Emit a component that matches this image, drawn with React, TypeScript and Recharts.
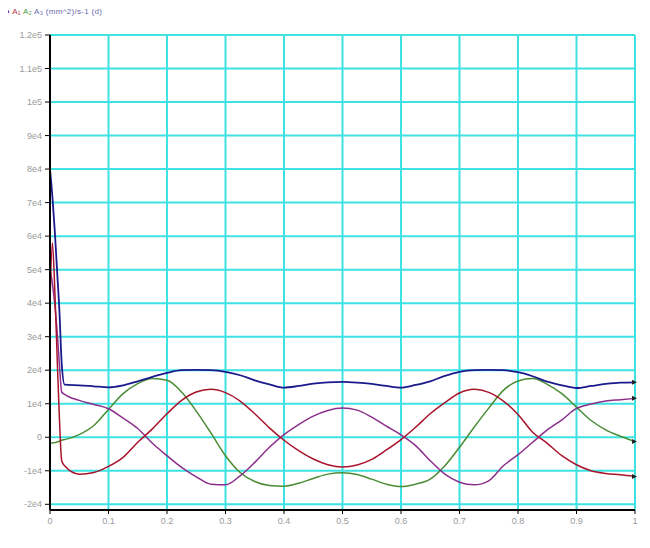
import React from "react"
import {
  LineChart,
  Line,
  XAxis,
  YAxis,
  CartesianGrid,
} from "recharts"

const xs = [
  0, 0.004, 0.008, 0.012, 0.016, 0.02, 0.025, 0.05, 0.075, 0.1, 0.125, 0.15, 0.175, 0.2,
  0.225, 0.25, 0.275, 0.3, 0.325, 0.35, 0.375, 0.4, 0.425, 0.45, 0.475, 0.5, 0.525, 0.55,
  0.575, 0.6, 0.625, 0.65, 0.675, 0.7, 0.725, 0.75, 0.775, 0.8, 0.825, 0.85, 0.875, 0.9,
  0.925, 0.95, 0.975, 1,
]

const blue = [
  80000, 72000, 62000, 50000, 38000, 22000, 15700, 15500, 15200, 14900, 15500, 16700, 18000,
  19200, 20000, 20100, 20000, 19500, 18500, 17000, 15800, 14800, 15300, 16000, 16400, 16500,
  16300, 15900, 15300, 14800, 15600, 16700, 18300, 19500, 20000, 20100, 20000, 19400, 18200,
  16600, 15500, 14700, 15300, 15900, 16300, 16400,
]

const red = [
  40000, 58000, 45000, 25000, 6000, -7000, -8500, -11000, -10500, -8700, -6000, -1500, 2500,
  7000, 11000, 13500, 14300, 13300, 10800, 7000, 2800, -900, -4000, -6500, -8200, -8900, -8300,
  -6600, -3800, -700, 3000, 7000, 10300, 13200, 14300, 13400, 10800, 6800, 1500, -1800, -5500,
  -8200, -10000, -10800, -11200, -11700,
]

const purple = [
  50000, 46000, 40000, 32000, 22000, 13500, 12800, 11000, 9800, 8500, 5700, 2600, -1800, -5500,
  -9000, -11800, -14000, -14200, -11500, -7500, -3000, 800, 3800, 6300, 8000, 8700, 8100, 6000,
  3300, 700, -2500, -7000, -11000, -13400, -14200, -13000, -8500, -5200, -1500, 2200, 5200, 8600,
  9900, 10800, 11200, 11600,
]

const green = [
  -1800, -1700, -1600, -1400, -1200, -900, -700, 800, 3500, 8300, 13000, 16000, 17500, 17000,
  13500, 7800, 1300, -5500, -10500, -13200, -14400, -14600, -13700, -12300, -11000, -10600,
  -11100, -12500, -14000, -14700, -14000, -12500, -8500, -3000, 3000, 8700, 14000, 16800, 17500,
  15800, 13000, 9000, 5000, 2200, 300, -1300,
]

const xTicks = [0, 0.1, 0.2, 0.3, 0.4, 0.5, 0.6, 0.7, 0.8, 0.9, 1]
const xTickLabels = ["0", "0.1", "0.2", "0.3", "0.4", "0.5", "0.6", "0.7", "0.8", "0.9", "1"]

const yTicks = [
  -20000, -10000, 0, 10000, 20000, 30000, 40000, 50000, 60000, 70000, 80000, 90000, 100000,
  110000, 120000,
]
const yTickLabels = [
  "-2e4", "-1e4", "0", "1e4", "2e4", "3e4", "4e4", "5e4", "6e4", "7e4", "8e4", "9e4", "1e5",
  "1.1e5", "1.2e5",
]

const data = xs.map((x, i) => ({
  x,
  blue: blue[i],
  red: red[i],
  purple: purple[i],
  green: green[i],
}))

const tickStyle = { fill: "#9a9a9a", fontSize: 9, fontFamily: "Liberation Sans, Arial, sans-serif" }

// little arrow head at the end of each curve
const endMark = (props: any) => {
  const { cx, cy, index } = props
  if (index !== xs.length - 1) return <g key={index} />
  return (
    <path
      key={index}
      d={`M${cx - 3},${cy - 2.5} L${cx + 2},${cy} L${cx - 3},${cy + 2.5} Z`}
      fill="#222"
    />
  )
}

export default function App() {
  return (
    <div style={{ position: "relative", width: 634, height: 536, background: "#fff" }}>
      <div
        style={{
          position: "absolute",
          left: -3,
          top: -1,
          fontSize: 8,
          letterSpacing: 0.3,
          fontFamily: "Liberation Sans, Arial, sans-serif",
          color: "#6a6ab0",
          whiteSpace: "nowrap",
        }}
      >
        <span style={{ color: "#8b2f8b" }}>● </span>
        <span style={{ color: "#c0304a" }}>A₁ </span>
        <span style={{ color: "#4a9c3a" }}>A₂ </span>
        <span>A₃ (mm^2)/s-1 (d)</span>
      </div>
      <LineChart
        width={634}
        height={536}
        data={data}
        margin={{ top: 27, right: 7, bottom: 4, left: 0 }}
      >
        <CartesianGrid stroke="#3ee2e2" strokeWidth={2} />
        <XAxis
          dataKey="x"
          type="number"
          domain={[0, 1]}
          ticks={xTicks}
          interval={0}
          height={30}
          tickSize={4}
          tickMargin={4}
          tick={tickStyle}
          tickFormatter={(v: number) => xTickLabels[xTicks.indexOf(v)] ?? String(v)}
          axisLine={{ stroke: "#000", strokeWidth: 2 }}
          tickLine={{ stroke: "#000" }}
        />
        <YAxis
          type="number"
          domain={[-21700, 120000]}
          allowDataOverflow
          ticks={yTicks}
          interval={0}
          width={42}
          tickSize={5}
          tickMargin={3}
          tick={tickStyle}
          tickFormatter={(v: number) => yTickLabels[yTicks.indexOf(v)] ?? String(v)}
          axisLine={{ stroke: "#000", strokeWidth: 2 }}
          tickLine={{ stroke: "#000" }}
        />
        <Line type="monotone" dataKey="green" stroke="#4a8c35" strokeWidth={1.5} dot={endMark} isAnimationActive={false} />
        <Line type="monotone" dataKey="purple" stroke="#8b2f8b" strokeWidth={1.5} dot={endMark} isAnimationActive={false} />
        <Line type="monotone" dataKey="red" stroke="#a8142c" strokeWidth={1.5} dot={endMark} isAnimationActive={false} />
        <Line type="monotone" dataKey="blue" stroke="#1a1a8c" strokeWidth={1.8} dot={endMark} isAnimationActive={false} />
      </LineChart>
    </div>
  )
}
